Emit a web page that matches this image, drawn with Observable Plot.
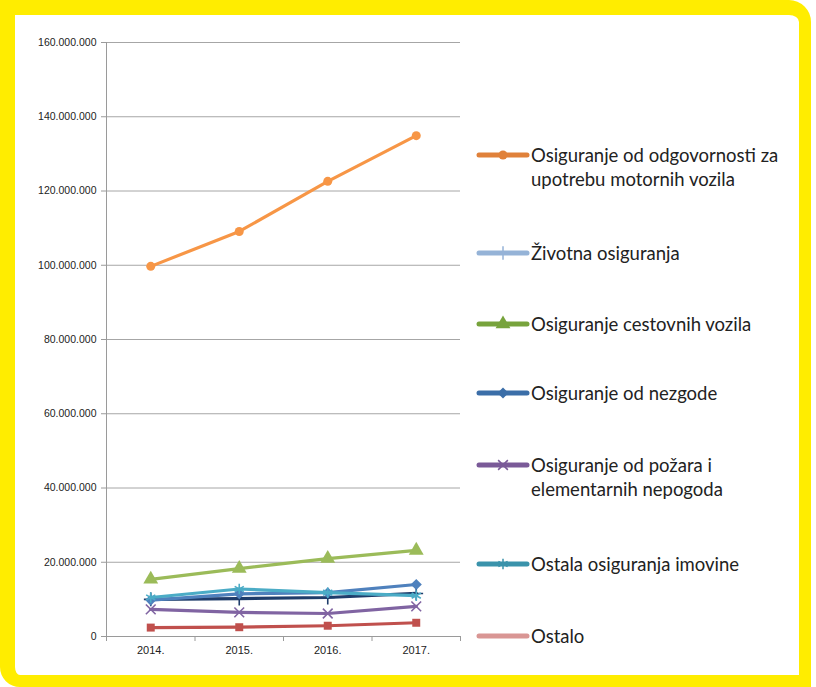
<!DOCTYPE html>
<html><head><meta charset="utf-8">
<script src="https://cdn.jsdelivr.net/npm/d3@7"></script>
<script src="https://cdn.jsdelivr.net/npm/@observablehq/plot@0.6"></script>
<style>
html,body{margin:0;padding:0;background:#fff;width:816px;height:687px;overflow:hidden;position:relative}
#frame{position:absolute;left:0;top:0;width:811px;height:687px;box-sizing:border-box;border-style:solid;border-color:#ffed00;border-width:15px 12px 12px 15px;border-radius:0 22px 0 20px;}
#chart{position:absolute;left:0;top:0}
.leg{position:absolute;left:476px;font-family:Lato,"Open Sans",sans-serif;font-size:18.5px;color:#222;line-height:24px}
.leg svg{position:absolute;left:0;top:0}
.leg span{position:absolute;left:55px;top:0;white-space:nowrap}
</style></head>
<body>
<div id="frame"></div>
<div id="chart"></div>
<div id="legend"></div>
<script>
const years = [2014, 2015, 2016, 2017];
const seriesNames = [
  "Osiguranje od odgovornosti za upotrebu motornih vozila",
  "Životna osiguranja",
  "Osiguranje cestovnih vozila",
  "Osiguranje od nezgode",
  "Osiguranje od požara i elementarnih nepogoda",
  "Ostala osiguranja imovine",
  "Ostalo"
];
const odgovornost = [99700000, 109100000, 122600000, 134900000];
const zivotna     = [10000000, 10200000, 10500000, 11600000];
const cestovna    = [15400000, 18300000, 21000000, 23200000];
const nezgode     = [9800000, 11500000, 11800000, 14000000];
const pozar       = [7300000, 6500000, 6200000, 8100000];
const imovina     = [10500000, 12800000, 11800000, 11000000];
const ostalo      = [2400000, 2500000, 2900000, 3700000];
const yTicks = [0, 20000000, 40000000, 60000000, 80000000, 100000000, 120000000, 140000000, 160000000];
const xBounds = [2013.5, 2014.5, 2015.5, 2016.5, 2017.5];
const legendLines = [
  ["Osiguranje od odgovornosti za", "upotrebu motornih vozila"],
  ["Životna osiguranja"],
  ["Osiguranje cestovnih vozila"],
  ["Osiguranje od nezgode"],
  ["Osiguranje od požara i", "elementarnih nepogoda"],
  ["Ostala osiguranja imovine"],
  ["Ostalo"]
];

const values = [odgovornost, zivotna, cestovna, nezgode, pozar, imovina, ostalo];
const lineColors = ["#f79646", "#1f3d6b", "#9bbb59", "#4f81bd", "#8064a2", "#4bacc6", "#c0504d"];
const legendColors = ["#e0813a", "#95b3d7", "#77a33c", "#3b6ea8", "#7a5a98", "#3a93ab", "#d99694"];
const symbols = ["circle", "plus", "triangle", "diamond2", "times", "asterisk", "square"];
const filled = [true, false, true, true, false, false, true];
const symR = [4.5, 4.5, 5.5, 5, 4.5, 5, 4.5];
const legendY = [155, 253, 324, 393, 465, 564, 636];

const fmt = d3.formatLocale({decimal: ",", thousands: ".", grouping: [3], currency: ["", ""]}).format(",");

const rows = [];
values.forEach((arr, i) => arr.forEach((v, j) => rows.push({s: i, year: years[j], value: v})));

const marks = [
  Plot.ruleY(yTicks.slice(1), {stroke: "#a6a6a6", strokeWidth: 1}),
  Plot.axisY({ticks: yTicks, tickFormat: fmt, tickSize: 5, tickPadding: 5, label: null, stroke: "#9a9a9a", fill: "#222", fontSize: 10.5, fontFamily: "Liberation Sans, Arial, sans-serif"}),
  Plot.ruleX([2013.5], {stroke: "#9a9a9a"}),
  Plot.axisX({ticks: xBounds, tickFormat: () => "", tickSize: 5, label: null, stroke: "#9a9a9a"}),
  Plot.axisX({ticks: years, tickFormat: d => d + ".", tickSize: 0, tickPadding: 10, label: null, fill: "#222", fontSize: 11, fontFamily: "Liberation Sans, Arial, sans-serif"}),
  Plot.ruleY([0], {stroke: "#9a9a9a"})
];
values.forEach((arr, i) => {
  const d = rows.filter(r => r.s === i);
  marks.push(Plot.line(d, {x: "year", y: "value", stroke: lineColors[i], strokeWidth: 3.2}));
  marks.push(Plot.dot(d, {x: "year", y: "value", symbol: () => symbols[i], r: symR[i],
    fill: filled[i] ? lineColors[i] : "none", stroke: lineColors[i], strokeWidth: filled[i] ? 0 : 1.6}));
});

const chart = Plot.plot({
  width: 470, height: 670,
  marginTop: 42, marginLeft: 106, marginRight: 10, marginBottom: 34,
  x: {type: "linear", domain: [2013.5, 2017.5], axis: null, label: null},
  y: {domain: [0, 160000000], axis: null, label: null},
  symbol: {type: "identity"},
  style: {background: "transparent"},
  marks
});
document.getElementById("chart").appendChild(chart);

// legend
const leg = document.getElementById("legend");
legendLines.forEach((lines, i) => {
  const div = document.createElement("div");
  div.className = "leg";
  div.style.top = (legendY[i] - 12) + "px";
  const svg = d3.create("svg").attr("width", 54).attr("height", 24);
  svg.append("line").attr("x1", 3).attr("x2", 51).attr("y1", 12).attr("y2", 12)
    .attr("stroke", legendColors[i]).attr("stroke-width", 5).attr("stroke-linecap", "round");
  if (i !== 6) {
    const sym = {circle: d3.symbolCircle, plus: d3.symbolPlus, triangle: d3.symbolTriangle, diamond2: d3.symbolDiamond2, times: d3.symbolTimes, asterisk: d3.symbolAsterisk, square: d3.symbolSquare}[symbols[i]];
    svg.append("path").attr("transform", "translate(27,12)")
      .attr("d", d3.symbol(sym, Math.PI * symR[i] * symR[i])())
      .attr("fill", filled[i] ? legendColors[i] : "none")
      .attr("stroke", legendColors[i]).attr("stroke-width", filled[i] ? 0 : 1.5);
  }
  div.appendChild(svg.node());
  const span = document.createElement("span");
  span.innerHTML = lines.join("<br>");
  div.appendChild(span);
  leg.appendChild(div);
});
</script>
</body></html>
